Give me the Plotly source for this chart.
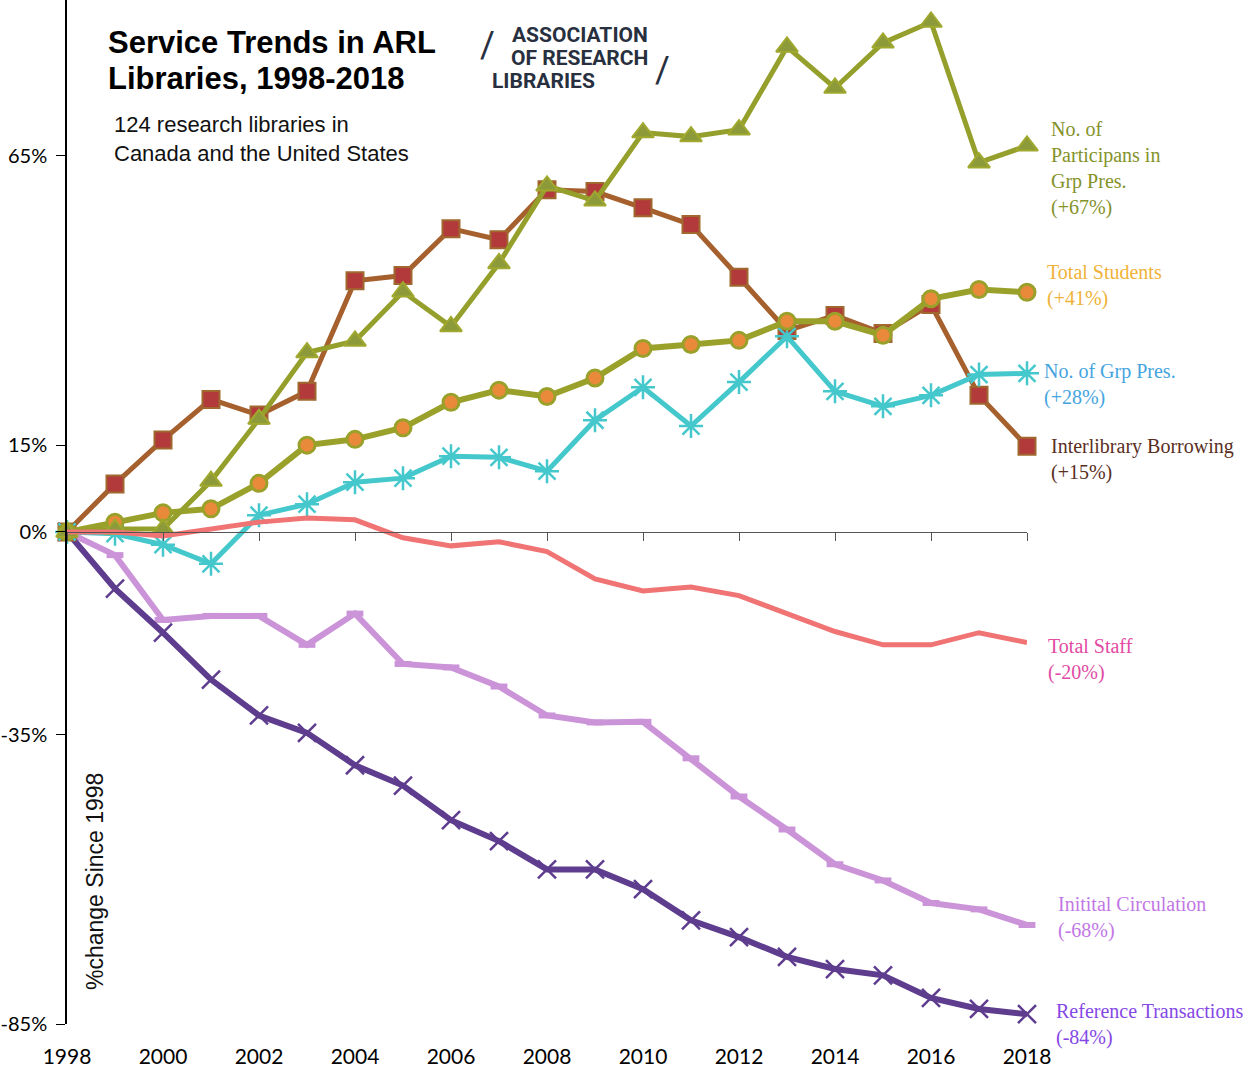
import plotly.graph_objects as go

years = list(range(1998, 2019))

participants_grp_pres = [0, 0.5, 0.5, 8.8, 19.5, 31, 33, 41.5, 35.5, 46.4, 59.8, 57.2, 69, 68.3, 69.5, 83.8, 76.7, 84.5, 88.1, 63.8, 66.7]
total_students = [0, 1.7, 3.3, 4, 8.4, 15, 16, 18, 22.4, 24.5, 23.4, 26.6, 31.7, 32.4, 33.1, 36.4, 36.4, 34, 40.3, 41.9, 41.4]
interlibrary_borrowing = [0, 8.3, 15.9, 22.9, 20.2, 24.3, 43.4, 44.3, 52.4, 50.5, 59.1, 58.8, 56, 53.1, 44, 34.8, 37.4, 34.3, 39.3, 23.6, 14.8]
grp_pres = [0, -0.3, -2.2, -5.5, 2.9, 4.8, 8.6, 9.3, 13.1, 12.9, 10.5, 19.3, 25, 18.3, 25.9, 33.8, 24.3, 21.7, 23.6, 27.2, 27.4]
total_staff = [0, 0, -0.7, 0.5, 1.7, 2.4, 2.1, -1, -2.4, -1.7, -3.4, -8.1, -10.2, -9.5, -11, -14.1, -17.2, -19.5, -19.5, -17.4, -19.1]
initial_circulation = [0, -4, -15.2, -14.5, -14.5, -19.5, -14.1, -22.8, -23.4, -26.7, -31.7, -32.9, -32.8, -39.1, -45.7, -51.4, -57.4, -60.2, -64.1, -65.2, -67.9]
reference_transactions = [0, -9.8, -17.4, -25.5, -31.7, -34.7, -40.3, -43.8, -49.8, -53.4, -58.3, -58.3, -61.7, -67.1, -70, -73.4, -75.5, -76.6, -80.5, -82.4, -83.3]

y_tick_vals = [-85, -35, 0, 15, 65]
y_tick_text = ["-85%", "-35%", "0%", "15%", "65%"]
x_tick_vals = list(range(1998, 2019, 2))

label_texts = [
    "No. of<br>Participans in<br>Grp Pres.<br>(+67%)",
    "Total Students<br>(+41%)",
    "No. of Grp Pres.<br>(+28%)",
    "Interlibrary Borrowing<br>(+15%)",
    "Total Staff<br>(-20%)",
    "Initital Circulation<br>(-68%)",
    "Reference Transactions<br>(-84%)",
]

# layout geometry (pixels)
W, H = 1248, 1080
L, R, T, B = 67, 221, 0, 56
PW, PH = W - L - R, H - T - B
Y_MIN, Y_MAX = -85, 91.9


def px(xp):
    return (xp - L) / PW


def py(yp):
    return (H - B - yp) / PH


TICKFONT = "Lato, Liberation Sans, sans-serif"
LOGOFONT = "Roboto, Liberation Sans, sans-serif"
SERIF = "Liberation Serif, DejaVu Serif, serif"
SANS = "Liberation Sans, Arial, sans-serif"

fig = go.Figure()

# zero-line axis carrier (drawn first)
fig.add_trace(go.Scatter(x=[1998], y=[0], xaxis="x2", mode="markers",
                         marker=dict(opacity=0), hoverinfo="skip", showlegend=False))

fig.add_trace(go.Scatter(
    x=years, y=initial_circulation, mode="lines+markers",
    line=dict(color="#cc94d8", width=6),
    marker=dict(symbol="line-ew-open", size=12, line=dict(color="#c688d4", width=6)),
    cliponaxis=False, name="Initial Circulation"))

fig.add_trace(go.Scatter(
    x=years, y=reference_transactions, mode="lines+markers",
    line=dict(color="#5e3c8e", width=6),
    marker=dict(symbol="x-thin-open", size=18, line=dict(color="#4e3478", width=2.5)),
    cliponaxis=False, name="Reference Transactions"))

fig.add_trace(go.Scatter(
    x=years, y=interlibrary_borrowing, mode="lines+markers",
    line=dict(color="#a5602e", width=5),
    marker=dict(symbol="square", size=17, color="#b33a3a", line=dict(color="#a0682e", width=2)),
    cliponaxis=False, name="Interlibrary Borrowing"))

fig.add_trace(go.Scatter(
    x=years, y=grp_pres, mode="lines+markers",
    line=dict(color="#45c8cc", width=5),
    marker=dict(symbol="asterisk-open", size=20, line=dict(color="#45c8cc", width=2.5)),
    cliponaxis=False, name="No. of Grp Pres."))

fig.add_trace(go.Scatter(
    x=years, y=total_students, mode="lines+markers",
    line=dict(color="#9aa12a", width=6),
    marker=dict(symbol="circle", size=16, color="#e98a3a", line=dict(color="#9aa12a", width=3)),
    cliponaxis=False, name="Total Students"))

fig.add_trace(go.Scatter(
    x=years, y=participants_grp_pres, mode="lines+markers",
    line=dict(color="#959f2b", width=5),
    marker=dict(symbol="triangle-up", size=19, color="#8d9a3a", line=dict(color="#a0a82e", width=2)),
    cliponaxis=False, name="No. of Participants in Grp Pres."))

fig.add_trace(go.Scatter(
    x=years, y=total_staff, mode="lines",
    line=dict(color="#f07474", width=5),
    cliponaxis=False, name="Total Staff"))

annotations = []


def text_at(txt, x, y, xanchor="left", yanchor="middle", **font):
    annotations.append(dict(xref="paper", yref="paper", x=px(x), y=py(y), xanchor=xanchor, yanchor=yanchor,
                            text=txt, showarrow=False, align="left", font=font))


# title and subtitle
text_at("<b>Service Trends in ARL</b>", 106, 42, family=SANS, size=31, color="#000")
text_at("<b>Libraries, 1998-2018</b>", 106, 78, family=SANS, size=31, color="#000")
text_at("124 research libraries in", 112, 124, family=SANS, size=22, color="#111")
text_at("Canada and the United States", 112, 153, family=SANS, size=22, color="#111")

# logo
LOGO = "#283040"
for txt, xr, yc in [("ASSOCIATION", 650, 35), ("OF RESEARCH", 650, 58), ("LIBRARIES", 597, 81)]:
    text_at("<b>" + txt + "</b>", xr, yc, xanchor="right", family=LOGOFONT, size=21, color=LOGO)
text_at("/", 487, 45, xanchor="center", family=LOGOFONT, size=36, color=LOGO)
text_at("/", 662, 70, xanchor="center", family=LOGOFONT, size=36, color=LOGO)

# y axis title
annotations.append(dict(xref="paper", yref="paper", x=px(95), y=py(882), xanchor="center", yanchor="middle",
                        text="%change Since 1998", textangle=-90, showarrow=False,
                        font=dict(family=SANS, size=23, color="#111")))

# right-hand series labels
label_pos = [(1049, 116), (1045, 259), (1042, 358), (1049, 433), (1046, 633), (1056, 891), (1054, 998)]
label_colors = ["#84922a", "#f0b238", "#45a4e0", "#5a2e1e", "#e24aa4", "#c277e6", "#8548e6"]
for txt, (xl, yt), col in zip(label_texts, label_pos, label_colors):
    text_at(txt, xl, yt, yanchor="top", family=SERIF, size=20, color=col)

fig.update_layout(
    width=W, height=H,
    margin=dict(l=L, r=R, t=T, b=B, pad=0),
    paper_bgcolor="white", plot_bgcolor="white",
    showlegend=False,
    xaxis=dict(range=[1998, 2018], tickvals=x_tick_vals, ticktext=[str(v) for v in x_tick_vals],
               showgrid=False, zeroline=False, showline=False, ticks="outside", ticklen=14,
               tickcolor="rgba(0,0,0,0)", automargin=False,
               tickfont=dict(family=TICKFONT, size=21, color="#000")),
    xaxis2=dict(range=[1998, 2018], overlaying="x", anchor="free",
                position=(0 - Y_MIN) / (Y_MAX - Y_MIN), side="bottom",
                showline=True, linecolor="#555", linewidth=1.2, automargin=False,
                tickvals=x_tick_vals, ticks="outside", ticklen=8, tickcolor="#555",
                showticklabels=False, showgrid=False, zeroline=False),
    yaxis=dict(range=[Y_MIN, Y_MAX], tickvals=y_tick_vals, ticktext=y_tick_text,
               showgrid=False, zeroline=False, showline=True, linecolor="#000", linewidth=1.5,
               ticks="outside", ticklen=9, tickcolor="#000", automargin=False, ticklabelstandoff=5,
               tickfont=dict(family=TICKFONT, size=20, color="#000")),
    annotations=annotations,
)

fig.write_html("out.html", config={"displayModeBar": False},
               post_script="document.body.style.margin='0';document.body.style.padding='0';")
